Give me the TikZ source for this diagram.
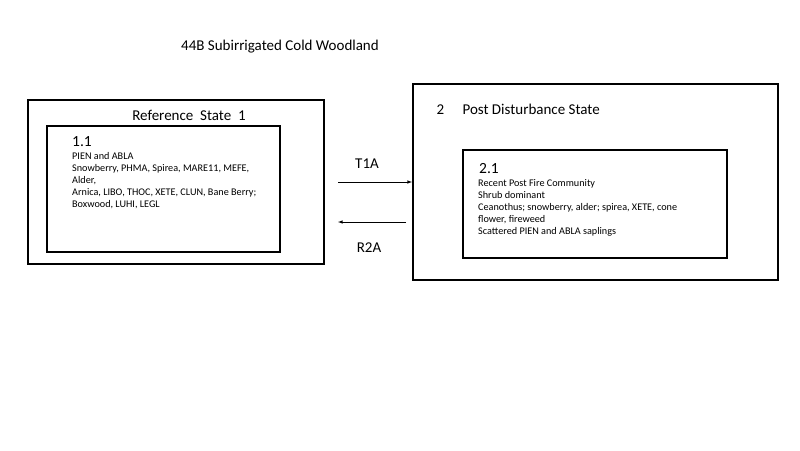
\documentclass[tikz,border=0pt]{standalone}
\usepackage{fontspec}
\setmainfont{Carlito}
\begin{document}
\begin{tikzpicture}[x=1pt,y=-1pt,
  outer/.style={draw,line width=1.6pt},
  inner/.style={draw,line width=1.1pt},
  body/.style={anchor=north west,align=left,font=\fontsize{10.2}{12}\selectfont,inner sep=0pt},
  lbl/.style={font=\fontsize{15}{17}\selectfont},
  arr/.style={-latex,line width=0.6pt}]
\useasboundingbox (0,0) rectangle (800,450);
\node[lbl] (title) at (280,47) {44B Subirrigated Cold Woodland};
\draw[outer] (28,100) rectangle (324,264);
\node[lbl] (rs) at (189,115) {Reference\ \ State\ \ 1};
\draw[inner] (47,126) rectangle (280,252);
\node[font=\fontsize{15.5}{18}\selectfont] (n11) at (82,142) {1.1};
\node[body] (t11) at (72,152) {PIEN and ABLA\\Snowberry, PHMA, Spirea, MARE11, MEFE,\\Alder,\\Arnica, LIBO, THOC, XETE, CLUN, Bane Berry;\\Boxwood, LUHI, LEGL};
\draw[outer] (413,84) rectangle (778,280);
\node[lbl,anchor=west] (ps) at (433,109) {2\quad\ Post Disturbance State};
\draw[inner] (463,150) rectangle (727,258);
\node[font=\fontsize{15.5}{18}\selectfont] (n21) at (489,169) {2.1};
\node[body] (t21) at (478,179) {Recent Post Fire Community\\Shrub dominant\\Ceanothus; snowberry, alder; spirea, XETE, cone\\flower, fireweed\\Scattered PIEN and ABLA saplings};
\coordinate (a1) at (338,182); \coordinate (a2) at (412,182);
\coordinate (b1) at (406,222); \coordinate (b2) at (338,222);
\draw[arr] (a1) -- (a2);
\draw[arr] (b1) -- (b2);
\node[lbl] (t1a) at (367,164) {T1A};
\node[lbl] (r2a) at (369,248) {R2A};
\end{tikzpicture}
\end{document}
